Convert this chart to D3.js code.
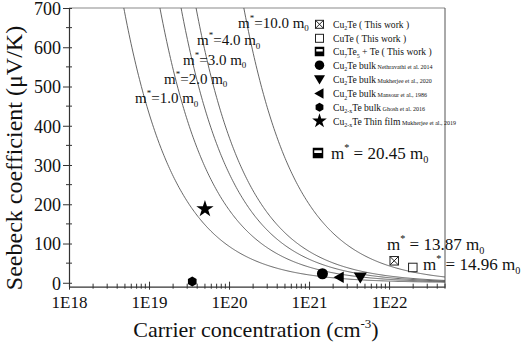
<!DOCTYPE html>
<html><head><meta charset="utf-8">
<script src="https://cdn.jsdelivr.net/npm/d3@7"></script>
<style>body{margin:0;background:#fff}svg{display:block}text{font-family:"Liberation Serif","Times New Roman",serif}</style>
</head><body><svg id="c" width="526" height="342"></svg>
<script>
// ---- data ----
const massValues = [1, 2, 3, 4, 10];               // m*/m0 of the Pisarenko curves
const massLabels = ["1.0", "2.0", "3.0", "4.0", "10.0"];
const sAtRef = 93;                                  // S (µV/K) for m*=1 m0 at n = 1E20 cm^-3
const xTickValues = [1e18, 1e19, 1e20, 1e21, 1e22];
const xTickLabels = ["1E18", "1E19", "1E20", "1E21", "1E22"];
const yTickValues = [0, 100, 200, 300, 400, 500, 600, 700];
const pointNames = ["Cu2Te", "CuTe", "Nethravathi", "Mansour", "Mukherjee2020", "Ghosh", "MukherjeeFilm"];
const pointN = [1.16e22, 1.98e22, 1.47e21, 2.39e21, 4.37e21, 3.47e19, 5.0e19];
const pointS = [56, 39, 23, 14, 14, 3, 188];
const pointShapes = ["xsquare", "square", "circle", "tleft", "tdown", "hex", "star"];
const legendShapes = ["xsquare", "square", "halfsquare", "circle", "tdown", "tleft", "hex", "star"];
const legendMain = [
  ["Cu", "2", "Te ( This work )"],
  ["CuTe ( This work )", "", ""],
  ["Cu", "7", "Te", "5", " + Te ( This work )"],
  ["Cu", "2", "Te bulk"],
  ["Cu", "2", "Te bulk"],
  ["Cu", "2", "Te bulk"],
  ["Cu", "2-x", "Te bulk"],
  ["Cu", "2-x", "Te Thin film"]
];
const legendRefs = ["", "", "", "Nethravathi et al. 2014", "Mukherjee et al., 2020", "Mansour et al., 1986", "Ghosh et al. 2016", "Mukherjee et al., 2019"];

// ---- scales ----
const svg = d3.select("#c");
const FF = '"Liberation Serif","Times New Roman",serif';
const x = d3.scaleLog().domain([1e18, 5e22]).range([69, 445]);
const y = d3.scaleLinear().domain([-10, 700]).range([286.7, 8]);
const [x0, x1] = x.range(), [y0, y1] = y.range();

svg.append("clipPath").attr("id", "clip").append("rect")
  .attr("x", x0).attr("y", y1).attr("width", x1 - x0).attr("height", y0 - y1);

// frame
svg.append("line").attr("x1", x0).attr("x2", x1).attr("y1", y1).attr("y2", y1).attr("stroke", "#8a8a8a").attr("stroke-width", 1.2);
svg.append("line").attr("x1", x1).attr("x2", x1).attr("y1", y1).attr("y2", y0).attr("stroke", "#555").attr("stroke-width", 1);

// curves
const nSamples = d3.range(0, 401).map(i => Math.pow(10, 18 + i * (Math.log10(5e22) - 18) / 400));
const line = d3.line().x(d => x(d[0])).y(d => y(d[1]));
const cg = svg.append("g").attr("clip-path", "url(#clip)");
massValues.forEach(m => {
  const pts = nSamples.map(n => [n, sAtRef * m * Math.pow(1e20 / n, 2 / 3)]).filter(d => d[1] < 900);
  cg.append("path").attr("d", line(pts)).attr("fill", "none").attr("stroke", "#555").attr("stroke-width", 0.9);
});

// axes
const xAxis = svg.append("g").attr("transform", `translate(0,${y0})`)
  .call(d3.axisBottom(x).tickValues(xTickValues).tickFormat((d, i) => xTickLabels[i]).tickSizeOuter(0));
xAxis.attr("font-family", null);
xAxis.select(".domain").attr("stroke", "#333").attr("stroke-width", 1.2);
xAxis.selectAll(".tick line").attr("y1", -5).attr("y2", 3).attr("stroke", "#333");
xAxis.selectAll(".tick text").style("font-family", FF).attr("font-size", 17).attr("fill", "#111").attr("y", 9).attr("dy", "0.71em");
const xMinor = [];
for (let e = 18; e <= 22; e++) for (let k = 2; k <= 9; k++) { const v = k * Math.pow(10, e); if (v <= 5e22) xMinor.push(v); }
svg.append("g").selectAll("line").data(xMinor).join("line")
  .attr("x1", d => x(d)).attr("x2", d => x(d)).attr("y1", y0 - 3).attr("y2", y0 + 2).attr("stroke", "#333");

const yAxis = svg.append("g").attr("transform", `translate(${x0},0)`)
  .call(d3.axisLeft(y).tickValues(yTickValues).tickSizeOuter(0));
yAxis.attr("font-family", null);
yAxis.select(".domain").attr("stroke", "#333").attr("stroke-width", 1.2);
yAxis.selectAll(".tick line").attr("x1", 3).attr("x2", -6).attr("stroke", "#333");
yAxis.selectAll(".tick text").style("font-family", FF).attr("font-size", 18).attr("fill", "#111").attr("x", -8).attr("y", 0.5);
svg.append("g").selectAll("line").data(d3.range(50, 700, 100)).join("line")
  .attr("x1", x0 - 3).attr("x2", x0 + 3).attr("y1", d => y(d)).attr("y2", d => y(d)).attr("stroke", "#333");

// axis titles
svg.append("text").attr("transform", "translate(22,158) rotate(-90)").attr("text-anchor", "middle")
  .attr("font-size", 24).attr("fill", "#111").text("Seebeck coefficient (μV/K)");
const xt = svg.append("text").attr("x", 256).attr("y", 337).attr("text-anchor", "middle")
  .attr("font-size", 22).attr("fill", "#111");
xt.append("tspan").text("Carrier concentration (cm");
xt.append("tspan").attr("font-size", 13).attr("dy", -9).text("-3");
xt.append("tspan").attr("dy", 9).text(")");

// m* label helper
function mLabel(px, py, val, size, spaced) {
  const t = svg.append("text").attr("x", px).attr("y", py).attr("font-size", size).attr("fill", "#111");
  t.append("tspan").text("m");
  t.append("tspan").attr("font-size", size * 0.6).attr("dy", -size * 0.45).text("*");
  t.append("tspan").attr("dy", size * 0.45).text((spaced ? " = " : "=") + val + " m");
  t.append("tspan").attr("font-size", size * 0.6).attr("dy", size * 0.25).text("0");
  return t;
}
const labelPos = [[135, 103], [164, 83.5], [183, 64.5], [197, 45], [238, 27.5]];
massValues.forEach((m, i) => mLabel(labelPos[i][0], labelPos[i][1], massLabels[i], 15, false));

// symbols
function drawSymbol(g, shape, cx, cy, s) {
  const h = s / 2;
  if (shape === "circle") g.append("circle").attr("cx", cx).attr("cy", cy).attr("r", h).attr("fill", "#000");
  else if (shape === "square") g.append("rect").attr("x", cx - h).attr("y", cy - h).attr("width", s).attr("height", s).attr("fill", "#fff").attr("stroke", "#222").attr("stroke-width", 1);
  else if (shape === "xsquare") {
    g.append("rect").attr("x", cx - h).attr("y", cy - h).attr("width", s).attr("height", s).attr("fill", "#fff").attr("stroke", "#222").attr("stroke-width", 1);
    g.append("path").attr("d", `M${cx - h},${cy - h}L${cx + h},${cy + h}M${cx + h},${cy - h}L${cx - h},${cy + h}`).attr("stroke", "#222").attr("stroke-width", 1);
  } else if (shape === "halfsquare") {
    g.append("rect").attr("x", cx - h).attr("y", cy).attr("width", s).attr("height", h).attr("fill", "#000");
    g.append("rect").attr("x", cx - h).attr("y", cy - h).attr("width", s).attr("height", s).attr("fill", "none").attr("stroke", "#000").attr("stroke-width", 1.5);
    g.append("rect").attr("x", cx - h).attr("y", cy - h).attr("width", s).attr("height", s * 0.2).attr("fill", "#000");
  } else if (shape === "tdown") g.append("path").attr("d", `M${cx - h * 1.1},${cy - h * 0.8}L${cx + h * 1.1},${cy - h * 0.8}L${cx},${cy + h * 1.05}Z`).attr("fill", "#000");
  else if (shape === "tleft") g.append("path").attr("d", `M${cx - h * 1.05},${cy}L${cx + h * 0.8},${cy - h * 1.05}L${cx + h * 0.8},${cy + h * 1.05}Z`).attr("fill", "#000");
  else if (shape === "hex") {
    const pts = d3.range(6).map(k => { const a = -Math.PI / 2 + k * Math.PI / 3; return [cx + h * Math.cos(a), cy + h * Math.sin(a)]; });
    g.append("path").attr("d", "M" + pts.join("L") + "Z").attr("fill", "#000");
  } else if (shape === "star") g.append("path").attr("transform", `translate(${cx},${cy})`).attr("d", d3.symbol(d3.symbolStar, s * s * 0.55)()).attr("fill", "#000");
}

// data points
const pg = svg.append("g");
const pSizes = {xsquare: 8.5, square: 8.5, circle: 11, tleft: 11, tdown: 12, hex: 10, star: 13};
pointN.forEach((n, i) => drawSymbol(pg, pointShapes[i], x(n), y(pointS[i]), pSizes[pointShapes[i]]));

// annotations
mLabel(387, 250, "13.87", 17, true);
mLabel(423, 270, "14.96", 17, true);
drawSymbol(svg.append("g"), "halfsquare", 318, 153, 9);
mLabel(331, 159, "20.45", 17, true);

// legend
const lg = svg.append("g");
const rowY = [24.3, 38.3, 51.5, 65.2, 79.3, 93.5, 107.3, 121];
const lSizes = {xsquare: 8, square: 8, halfsquare: 8, circle: 9.5, tleft: 10, tdown: 10, hex: 9, star: 11};
legendShapes.forEach((sh, i) => {
  drawSymbol(lg, sh, 319.5, rowY[i], lSizes[sh]);
  const t = lg.append("text").attr("x", 333).attr("y", rowY[i] + 3.5).attr("font-size", 9.6).attr("fill", "#111");
  const parts = legendMain[i];
  parts.forEach((p, k) => {
    if (!p) return;
    if (k % 2 === 1) t.append("tspan").attr("font-size", 6).attr("dy", 2.5).text(p);
    else t.append("tspan").attr("dy", k > 0 ? -2.5 : 0).text(p);
  });
  if (legendRefs[i]) t.append("tspan").attr("font-size", 6).text(" " + legendRefs[i]);
});
</script></body></html>
